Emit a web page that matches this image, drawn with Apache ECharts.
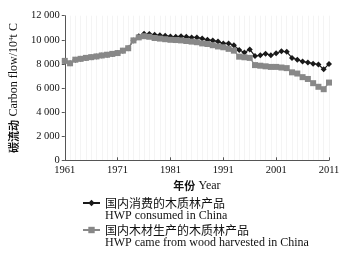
<!DOCTYPE html>
<html>
<head>
<meta charset="utf-8">
<script src="https://cdn.jsdelivr.net/npm/echarts@6/dist/echarts.min.js"></script>
<style>
	html,body{margin:0;padding:0;background:#fff;}
	#chart{width:352px;height:256px;}
</style>
</head>
<body>
<div id="chart"></div>
<script>
	// 年份
	const years = ['1961','1962','1963','1964','1965','1966','1967','1968','1969','1970',
		'1971','1972','1973','1974','1975','1976','1977','1978','1979','1980',
		'1981','1982','1983','1984','1985','1986','1987','1988','1989','1990',
		'1991','1992','1993','1994','1995','1996','1997','1998','1999','2000',
		'2001','2002','2003','2004','2005','2006','2007','2008','2009','2010','2011']
	// 国内消费的木质林产品
	const consumed = [8250,8050,8350,8420,8500,8560,8620,8700,8760,8830,
		8900,9100,9300,9950,10300,10500,10480,10420,10380,10330,
		10280,10250,10300,10250,10200,10200,10100,10000,9950,9850,
		9700,9700,9550,9150,8950,9200,8650,8720,8850,8720,
		8880,9050,9000,8500,8350,8200,8120,8020,7950,7550,8000]
	// 国内木材生产的木质林产品
	const harvested = [8250,8050,8350,8420,8500,8560,8620,8700,8760,8830,
		8900,9100,9300,9950,10200,10300,10250,10150,10100,10050,
		10000,9980,9950,9900,9850,9800,9700,9650,9550,9450,
		9380,9250,9100,8600,8550,8500,7900,7850,7800,7750,
		7750,7700,7650,7300,7200,6900,6750,6400,6100,5900,6450]

	const serif = '"Liberation Serif","Times New Roman",serif'
	const cjk = '"Noto Sans CJK SC",sans-serif'

	const fmtNum = (v) => {
		let s = String(v)
		return s.length > 3 ? s.slice(0, s.length-3) + ' ' + s.slice(-3) : s
	}

	const legendText = {
		padding: [13,0,0,0],
		rich: {
			cn: { fontFamily: cjk, fontSize: 12, lineHeight: 13, color: '#111' },
			en: { fontFamily: serif, fontSize: 12, lineHeight: 13, color: '#111' }
		}
	}
	const legendFmt = function(name){
		if(name=='consumed') return '{cn|国内消费的木质林产品}\n{en|HWP consumed in China}'
		return '{cn|国内木材生产的木质林产品}\n{en|HWP came from wood harvested in China}'
	}

	const myChart = echarts.init(document.getElementById('chart'))
	const option = {
		animation: false,
		backgroundColor: '#fff',
		grid: { left: 60.5, right: 23, top: 15.7, bottom: 95.7 },
		legend: [
			{ data: ['consumed'], left: 82, top: 197, padding: 0, itemWidth: 17, itemHeight: 8, formatter: legendFmt, textStyle: legendText },
			{ data: ['harvested'], left: 82, top: 224, padding: 0, itemWidth: 17, itemHeight: 8, formatter: legendFmt, textStyle: legendText }
		],
		xAxis: {
			type: 'category',
			data: years,
			boundaryGap: false,
			name: '{cn|年份} {en|Year}',
			nameLocation: 'middle',
			nameGap: 19,
			nameTextStyle: {
				rich: {
					cn: { fontFamily: cjk, fontSize: 11, fontWeight: 'bold', color: '#111' },
					en: { fontFamily: serif, fontSize: 12, color: '#111' }
				}
			},
			axisLine: { lineStyle: { color: '#555', width: 1 } },
			axisTick: { inside: true, length: 3, interval: 9, lineStyle: { color: '#555' } },
			axisLabel: { interval: 9, margin: 4, fontFamily: serif, fontSize: 10.5, color: '#111' },
			splitLine: { show: true, interval: 0, lineStyle: { color: '#f4f4f4', width: 1 } }
		},
		yAxis: {
			type: 'value',
			min: 0,
			max: 12000,
			interval: 2000,
			name: '{cn|碳流动} {en|Carbon flow/10}{sup|4}{en|t C}',
			nameLocation: 'middle',
			nameGap: 41,
			nameTextStyle: {
				rich: {
					cn: { fontFamily: cjk, fontSize: 11, fontWeight: 'bold', color: '#111' },
					en: { fontFamily: serif, fontSize: 12, color: '#111' },
					sup: { fontFamily: serif, fontSize: 7, color: '#111', verticalAlign: 'top', padding: [0,0,5,0] }
				}
			},
			axisLine: { show: true, lineStyle: { color: '#555', width: 1 } },
			axisTick: { show: true, length: 3, lineStyle: { color: '#555' } },
			axisLabel: { margin: 5, fontFamily: serif, fontSize: 10.5, color: '#111', formatter: fmtNum },
			splitLine: { show: false }
		},
		series: [
			{
				name: 'consumed',
				type: 'line',
				data: consumed,
				symbol: 'diamond',
				symbolSize: 6,
				showAllSymbol: true,
				color: '#1a1a1a',
				lineStyle: { color: '#1a1a1a', width: 1.2 },
				itemStyle: { color: '#1a1a1a' }
			},
			{
				name: 'harvested',
				type: 'line',
				data: harvested,
				symbol: 'rect',
				symbolSize: 6,
				showAllSymbol: true,
				color: '#888',
				lineStyle: { color: '#888', width: 1.2 },
				itemStyle: { color: '#888' }
			}
		]
	}
	myChart.setOption(option)
</script>
</body>
</html>
